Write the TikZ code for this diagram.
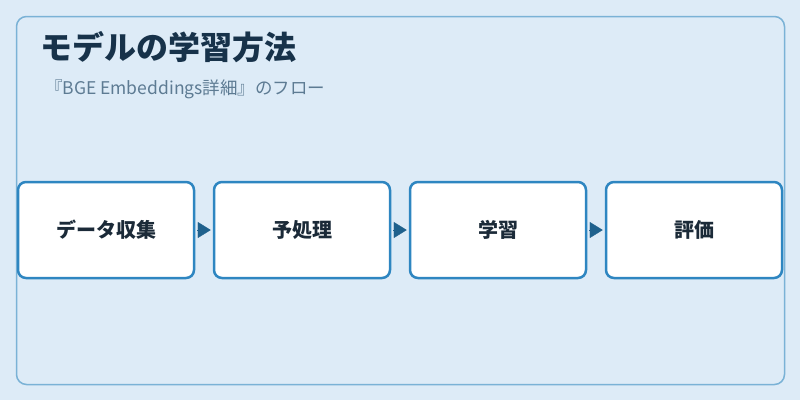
\documentclass[tikz,border=0pt]{standalone}
\usepackage{fontspec}
\setmainfont{Noto Sans CJK JP}
\usepackage{xcolor}
\definecolor{PageBlue}{HTML}{DDEBF7}
\definecolor{FrameBlue}{HTML}{7AB2D6}
\definecolor{BoxBlue}{HTML}{2E86C1}
\definecolor{ArrowBlue}{HTML}{1F618D}
\definecolor{TitleInk}{HTML}{17324A}
\definecolor{SubInk}{HTML}{5D7B93}
\definecolor{BoxInk}{HTML}{1B2A38}
\usetikzlibrary{arrows.meta, positioning}
\tikzset{
  % Box styles
  stepbox/.style={rectangle, rounded corners=8pt, draw=BoxBlue, line width=2.5pt, fill=white, minimum width=176pt, minimum height=96pt, font=\fontsize{20}{24}\selectfont\bfseries, text=BoxInk, align=center},
  % Arrow styles
  flowarrow/.style={-{Triangle[length=13pt, width=16pt]}, line width=0.4pt, ArrowBlue, shorten <=2pt, shorten >=2pt}
}

\begin{document}
\begin{tikzpicture}[x=1pt, y=-1pt]
  % Background and frame
  \fill[PageBlue] (0,0) rectangle (800,400);
  \useasboundingbox (0,0) rectangle (800,400);
  \draw[FrameBlue, line width=1.5pt, rounded corners=10pt] (16.5,16.5) rectangle (784.5,384.5);

  % Heading
  \node[anchor=west, inner sep=0pt, font=\fontsize{32}{36}\selectfont\bfseries, text=TitleInk] (title) at (40,47) {モデルの学習方法};
  \node[anchor=west, inner sep=0pt, font=\fontsize{17.5}{20}\selectfont, text=SubInk] (subtitle) at (45,89) {『BGE Embeddings詳細』のフロー};

  % Steps
  \foreach \i/\x/\label in {1/106/データ収集, 2/302/予処理, 3/498/学習, 4/694/評価} {
    \node[stepbox] (s\i) at (\x,230) {\label};
  }

  % Connections
  \foreach \i/\j in {1/2, 2/3, 3/4} {
    \draw[flowarrow] (s\i) -- (s\j);
  }
\end{tikzpicture}
\end{document}
